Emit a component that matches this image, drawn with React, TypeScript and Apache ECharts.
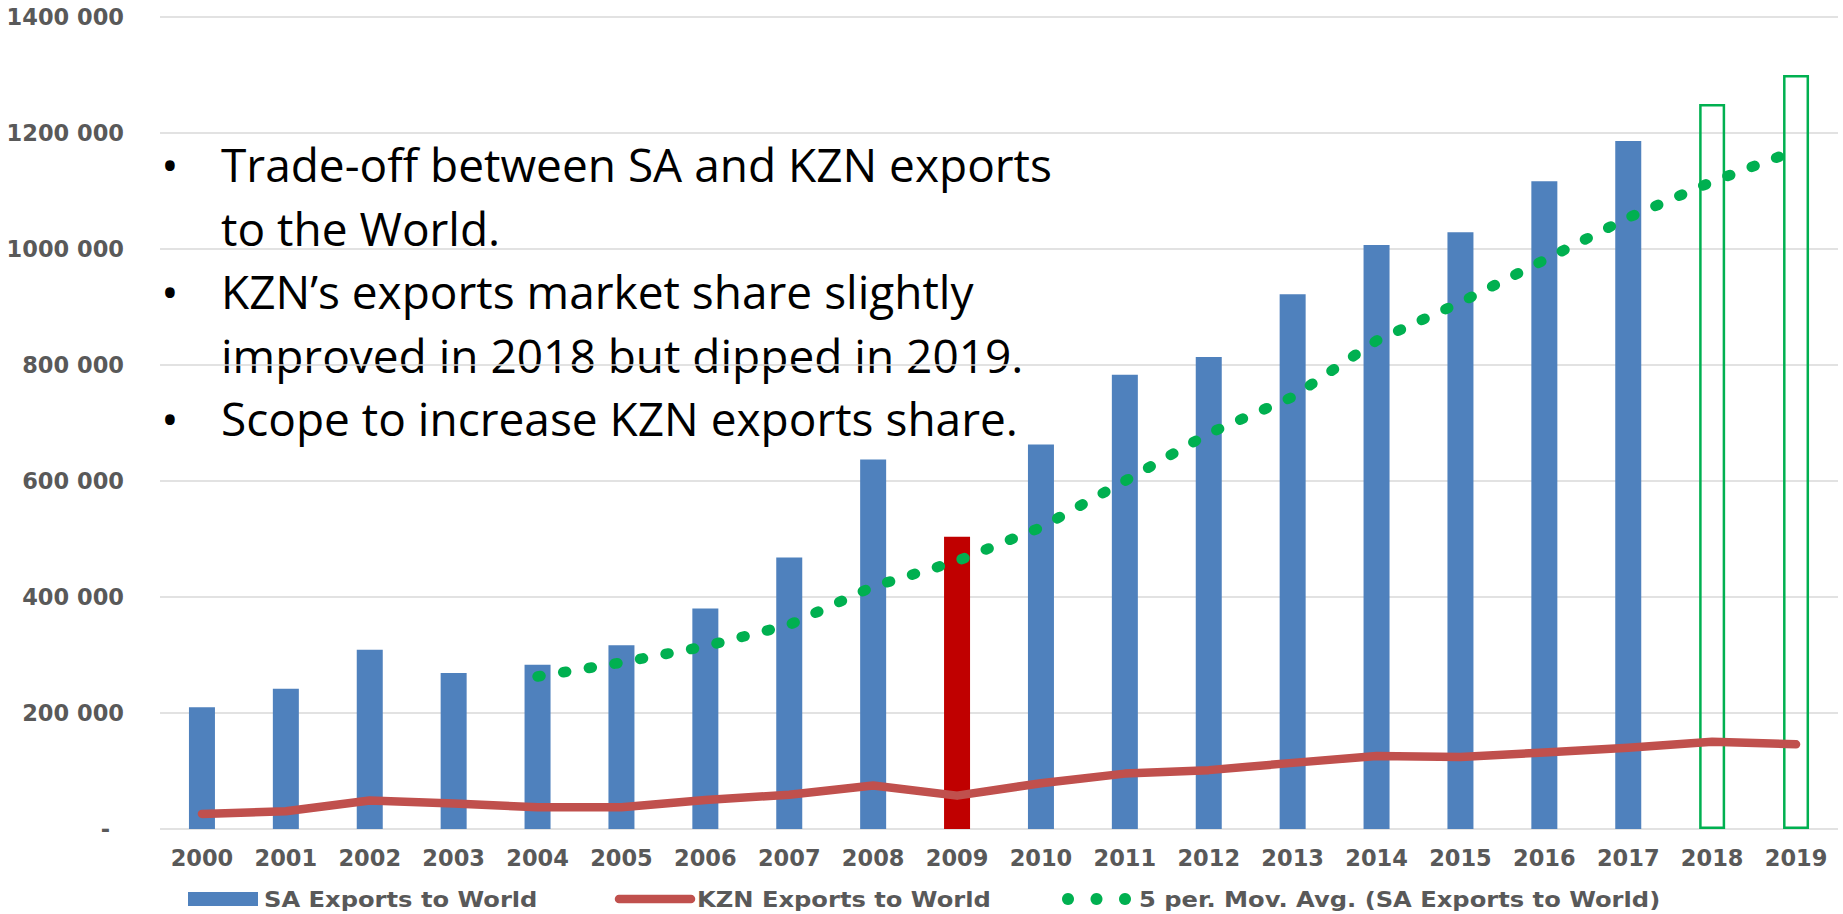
import React, { useEffect, useRef } from "react";
import * as echarts from "echarts";

const years = ["2000", "2001", "2002", "2003", "2004", "2005", "2006", "2007", "2008", "2009", "2010", "2011", "2012", "2013", "2014", "2015", "2016", "2017", "2018", "2019"];
const saExports = [210000, 242000, 309000, 269000, 283000, 317000, 380000, 468000, 637000, 504000, 663000, 783000, 814000, 922000, 1007000, 1029000, 1117000, 1186000, 1250000, 1300000];
const kznExports = [26000, 30500, 49000, 44000, 37500, 37500, 50000, 59000, 75000, 57500, 79000, 95500, 101500, 114000, 126000, 124000, 132000, 140000, 150500, 146000];
const saMovAvg = [null, null, null, null, 263000, 287000, 315000, 352000, 418000, 462000, 520000, 600000, 682000, 745000, 842000, 908000, 981000, 1054000, 1116000, 1170000];
const highlightYears = ["2009"];
const outlineYears = ["2018", "2019"];
const yTickLabels = ["-", "200 000", "400 000", "600 000", "800 000", "1000 000", "1200 000", "1400 000"];
const seriesNames = ["SA Exports to World", "KZN Exports to World", "5 per. Mov. Avg. (SA Exports to World)"];
const bulletLines = [
  { bullet: true, text: "Trade-off between SA and KZN exports" },
  { bullet: false, text: "to the World." },
  { bullet: true, text: "KZN\u2019s exports market share slightly" },
  { bullet: false, text: "improved in 2018 but dipped in 2019." },
  { bullet: true, text: "Scope to increase KZN exports share." },
];

const BLUE = "#4F81BD";
const RED_LINE = "#C0504D";
const RED_BAR = "#C00000";
const GREEN = "#00B050";
const GREY = "#595959";

export default function App() {
  const ref = useRef<HTMLDivElement>(null);
  useEffect(() => {
    if (!ref.current) return;
    const chart = echarts.init(ref.current, undefined, { renderer: "svg" });
    const barData = saExports.map((v, i) => {
      const y = years[i];
      if (highlightYears.includes(y)) return { value: v, itemStyle: { color: RED_BAR } };
      if (outlineYears.includes(y))
        return { value: v, itemStyle: { color: "rgba(255,255,255,0)", borderColor: GREEN, borderWidth: 2.5 } };
      return { value: v };
    });
    const lineH = 63.5;
    const firstBaseline = 181;
    const fs = 46;
    const graphicEls: any[] = [];
    bulletLines.forEach((l, i) => {
      const y = firstBaseline + i * lineH - 0.36 * fs;
      if (l.bullet)
        graphicEls.push({
          type: "text",
          x: 170,
          y,
          style: { text: "\u2022", fontSize: fs, fontFamily: "Open Sans", fill: "#000", align: "center", verticalAlign: "middle" },
        });
      graphicEls.push({
        type: "text",
        x: 221,
        y,
        style: { text: l.text, fontSize: fs, fontFamily: "Open Sans", fill: "#000", align: "left", verticalAlign: "middle" },
      });
    });

    // legend (drawn with graphic elements to match the reference icons)
    const ly = 899;
    const legendText = (x: number, text: string) => ({
      type: "text",
      x,
      y: ly,
      scaleX: 1.1,
      style: { text, fontSize: 22, lineHeight: 22, fontFamily: "DejaVu Sans", fontWeight: "bold", fill: GREY, align: "left", verticalAlign: "middle" },
    });
    graphicEls.push({ type: "rect", shape: { x: 188, y: ly - 7, width: 70, height: 14 }, style: { fill: BLUE } });
    graphicEls.push(legendText(264, seriesNames[0]));
    graphicEls.push({
      type: "line",
      shape: { x1: 619, y1: ly, x2: 691, y2: ly },
      style: { stroke: RED_LINE, lineWidth: 8.5, lineCap: "round" },
    });
    graphicEls.push(legendText(697, seriesNames[1]));
    [1068, 1096.5, 1125].forEach((cx) =>
      graphicEls.push({ type: "circle", shape: { cx, cy: ly, r: 6 }, style: { fill: GREEN } })
    );
    graphicEls.push(legendText(1139, seriesNames[2]));

    chart.setOption({
      animation: false,
      grid: { left: 160, right: 5, top: 17, bottom: 85, containLabel: false },
      legend: { show: false },
      xAxis: {
        type: "category",
        data: years,
        axisLine: { show: false },
        axisTick: { show: false },
        axisLabel: { margin: 17, fontFamily: "DejaVu Sans", fontWeight: "bold", fontSize: 22.5, color: GREY },
      },
      yAxis: {
        type: "value",
        min: 0,
        max: 1400000,
        interval: 200000,
        axisLine: { show: false },
        axisTick: { show: false },
        splitLine: { lineStyle: { color: "#D9D9D9", width: 1.5 } },
        axisLabel: {
          margin: 36,
          fontFamily: "DejaVu Sans",
          fontWeight: "bold",
          fontSize: 22.5,
          color: GREY,
          formatter: (v: number) => {
            const idx = Math.round(v / 200000);
            return idx === 0 ? "{d|" + yTickLabels[0] + "}" : yTickLabels[idx];
          },
          rich: { d: { fontFamily: "DejaVu Sans", fontWeight: "bold", fontSize: 22.5, color: GREY, padding: [0, 14, 0, 0] } },
        },
      },
      series: [
        {
          name: seriesNames[0],
          type: "bar",
          barWidth: 26,
          itemStyle: { color: BLUE },
          data: barData,
          z: 2,
        },
        {
          name: seriesNames[1],
          type: "line",
          symbol: "none",
          data: kznExports,
          lineStyle: { color: RED_LINE, width: 8.5, cap: "round", join: "round" },
          itemStyle: { color: RED_LINE },
          z: 3,
        },
        {
          name: seriesNames[2],
          type: "line",
          symbol: "none",
          data: saMovAvg,
          lineStyle: { color: GREEN, width: 10.5, type: [3, 23], cap: "round" },
          itemStyle: { color: GREEN },
          z: 4,
        },
      ],
      graphic: graphicEls,
    });
    return () => chart.dispose();
  }, []);
  return <div ref={ref} style={{ position: "absolute", left: 0, top: 0, width: 1843, height: 914 }} />;
}
